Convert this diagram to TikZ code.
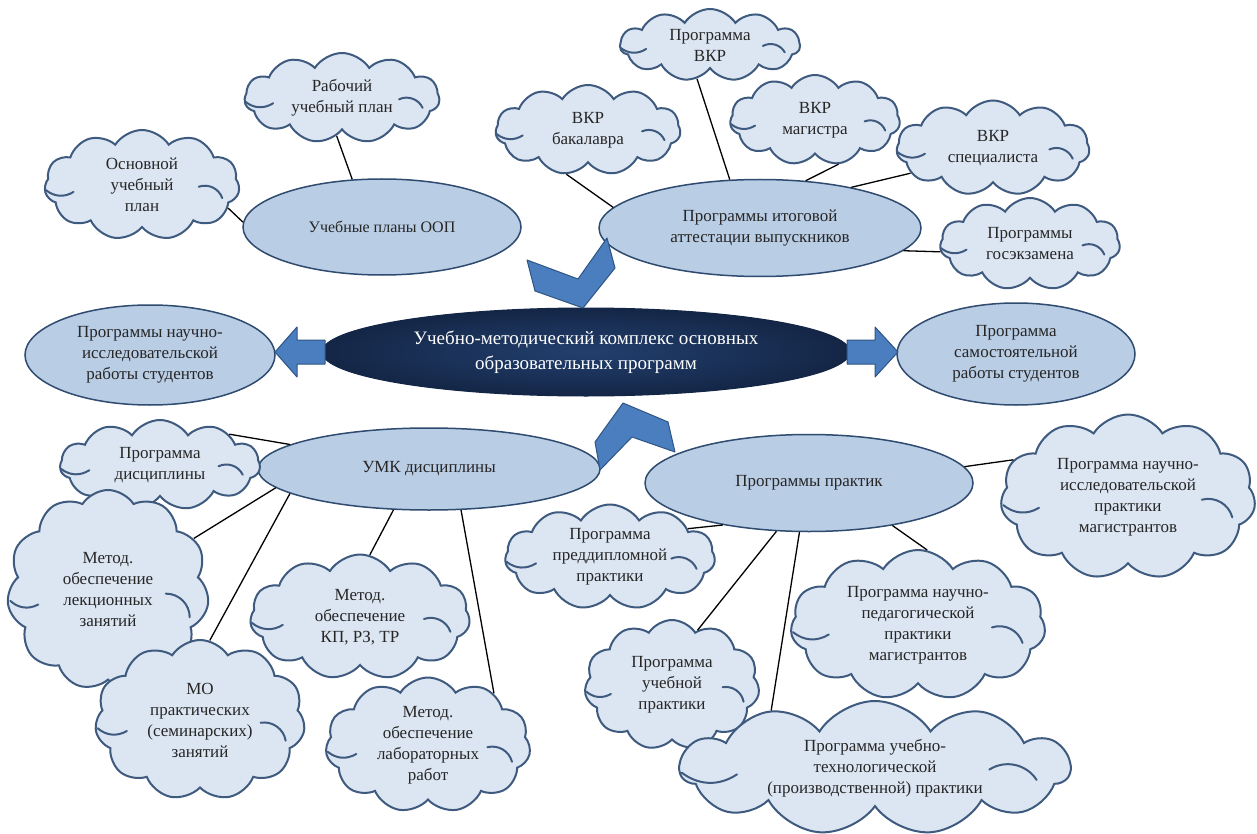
\documentclass[tikz,border=0pt]{standalone}
\usepackage{fontspec}
\setmainfont{Liberation Serif}
\usetikzlibrary{shapes.geometric,shapes.symbols,calc}
\definecolor{cldfill}{HTML}{DCE6F2}
\definecolor{cldline}{HTML}{3E5A7E}
\definecolor{elfill}{HTML}{B9CDE5}
\definecolor{elline}{HTML}{2F4B6F}
\definecolor{txt}{HTML}{262626}
\definecolor{chevfill}{HTML}{4A7EBE}
\definecolor{chevline}{HTML}{2E5584}
\definecolor{navyin}{HTML}{223F6E}
\definecolor{navyout}{HTML}{142646}
\newcommand{\cloudhooks}[1]{%
  \draw[hookline] ($(#1.west)!0.01!(#1.east)+0.12*(#1.south)-0.12*(#1.center)$)
     to[bend right=35] ($(#1.west)!0.15!(#1.east)+0.16*(#1.south)-0.16*(#1.center)$);
  \draw[hookline] ($(#1.west)!0.79!(#1.east)+0.04*(#1.south)-0.04*(#1.center)$)
     to[bend left=45] ($(#1.west)!0.91!(#1.east)+0.30*(#1.south)-0.30*(#1.center)$);
}
\begin{document}
\begin{tikzpicture}[x=1pt,y=-1pt,
  cld/.style={cloud, cloud puffs=11, cloud puff arc=115, cloud ignores aspect,
    draw=cldline, line width=2pt, fill=cldfill, align=center, inner sep=0pt,
    text=txt, font=\fontsize{17}{21}\selectfont},
  hookline/.style={draw=cldline, line width=2pt, line cap=round},
  ell/.style={ellipse, draw=elline, line width=1.5pt, fill=elfill, align=center,
    inner sep=0pt, text=txt, font=\fontsize{17}{21}\selectfont},
  link/.style={line width=1.3pt, draw=black},
  chev/.style={fill=chevfill, draw=chevline, line width=1pt, line join=round}
]
\fill[white] (0,0) rectangle (1257,834);
\useasboundingbox (0,0) rectangle (1257,834);

% ellipses
\node[ell, minimum width=278pt, minimum height=96pt, font=\fontsize{16}{20}\selectfont] (uplan) at (382,227) {Учебные планы ООП};
\node[ell, minimum width=322pt, minimum height=97pt] (pia) at (760,228) {Программы итоговой\\аттестации выпускников};
\node[ell, minimum width=250pt, minimum height=100pt] (nir) at (150,355) {Программы научно-\\исследовательской\\работы студентов};
\node[ell, minimum width=238pt, minimum height=102pt] (srs) at (1016,354) {Программа\\самостоятельной\\работы студентов};
\node[ell, minimum width=342pt, minimum height=82pt] (umk) at (429,469) {УМК дисциплины};
\node[ell, minimum width=328pt, minimum height=97pt] (pp) at (809,483) {Программы практик};
\node[ellipse, minimum width=528pt, minimum height=88pt, inner sep=0pt, draw=navyout, line width=1pt,
  inner color=navyin, outer color=navyout, text=white, align=center,
  font=\fontsize{19}{25}\selectfont] (umkc) at (586,352) {Учебно-методический комплекс основных\\образовательных программ};

% clouds
\node[cld, minimum width=195pt, minimum height=90pt] (rab) at (342,98) {Рабочий\\учебный план};
\node[cld, minimum width=195pt, minimum height=110pt] (osn) at (142,185) {Основной\\учебный\\план};
\node[cld, minimum width=180pt, minimum height=72pt] (pvkr) at (710,45) {Программа\\ВКР};
\node[cld, minimum width=185pt, minimum height=90pt] (bak) at (588,130) {ВКР\\бакалавра};
\node[cld, minimum width=170pt, minimum height=90pt] (mag) at (815,120) {ВКР\\магистра};
\node[cld, minimum width=193pt, minimum height=95pt] (spec) at (993,148) {ВКР\\специалиста};
\node[cld, minimum width=180pt, minimum height=92pt] (gos) at (1030,244) {Программы\\госэкзамена};
\node[cld, minimum width=200pt, minimum height=90pt] (pdis) at (160,465) {Программа\\дисциплины};
\node[cld, minimum width=202pt, minimum height=200pt] (lek) at (108,590) {Метод.\\обеспечение\\лекционных\\занятий};
\node[cld, minimum width=220pt, minimum height=125pt] (kp) at (360,617) {Метод.\\обеспечение\\КП, РЗ, ТР};
\node[cld, minimum width=210pt, minimum height=160pt] (mo) at (200,720) {МО\\практических\\(семинарских)\\занятий};
\node[cld, minimum width=205pt, minimum height=135pt] (lab) at (428,745) {Метод.\\обеспечение\\лабораторных\\работ};
\node[cld, minimum width=210pt, minimum height=105pt] (pred) at (610,557) {Программа\\преддипломной\\практики};
\node[cld, minimum width=175pt, minimum height=130pt] (ucheb) at (672,685) {Программа\\учебной\\практики};
\node[cld, minimum width=255pt, minimum height=150pt] (nped) at (918,625) {Программа научно-\\педагогической\\практики\\магистрантов};
\node[cld, minimum width=390pt, minimum height=134pt] (utex) at (875,768) {Программа учебно-\\технологической\\(производственной) практики};
\node[cld, minimum width=255pt, minimum height=165pt] (nipr) at (1128,497) {Программа научно-\\исследовательской\\практики\\магистрантов};

\foreach \c in {rab,osn,pvkr,bak,mag,spec,gos,pdis,lek,kp,mo,lab,pred,ucheb,nped,utex,nipr}{\cloudhooks{\c}}

% connectors
\draw[link] (osn.-15) -- (uplan.178);
\draw[link] (rab.262) -- (uplan.122);
\draw[link] (bak.244) -- (pia.172);
\draw[link] (pvkr.249) -- (pia.122);
\draw[link] (mag.298) -- (pia.46);
\draw[link] (spec.197) -- (pia.24);
\draw[link] (gos.185) -- (pia.-9);
\draw[link] (pdis.24) -- (umk.170);
\draw[link] (lek.31) -- (umk.187);
\draw[link] (mo.83) -- (umk.190);
\draw[link] (kp.81) -- (umk.229);
\draw[link] (lab.38) -- (umk.308);
\draw[link] (pred.20) -- (pp.206);
\draw[link] (ucheb.65) -- (pp.236);
\draw[link] (utex.151) -- (pp.259);
\draw[link] (nped.83) -- (pp.333);
\draw[link] (nipr.162) -- (pp.6);

% block arrows
\draw[chev] (275,352) -- (297,327) -- (297,340) -- (325,340) -- (325,364) -- (297,364) -- (297,377) -- cycle;
\draw[chev] (847,340) -- (875,340) -- (875,327) -- (898,352) -- (875,377) -- (875,364) -- (847,364) -- cycle;
\draw[chev] (527,260) -- (578,279) -- (607,238) -- (615,268) -- (583,308) -- (535,291) -- cycle;
\draw[chev] (623,403) -- (668,422) -- (675,452) -- (632,437) -- (600,470) -- (595,442) -- cycle;
\end{tikzpicture}
\end{document}
